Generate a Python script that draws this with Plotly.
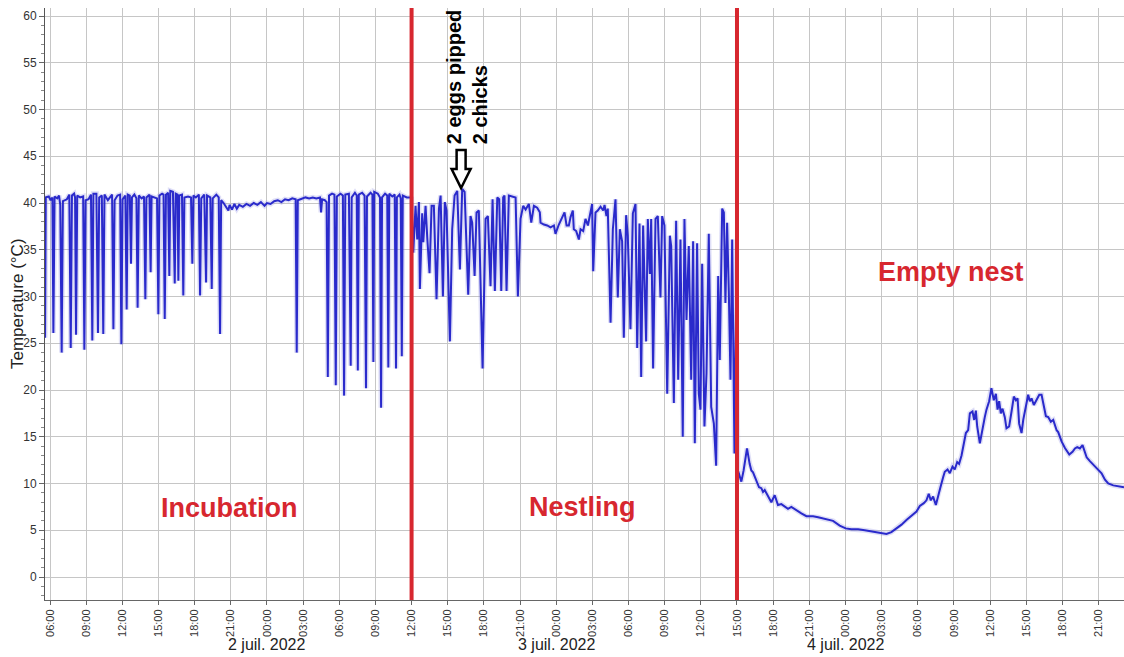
import pandas as pd
import plotly.graph_objects as go

# ---------------- data (hours since 2022-07-01 00:00, temperature °C) ----------------
incubation_h = [5.59, 5.65, 5.9, 6.05, 6.2, 6.28, 6.38, 6.6, 6.75, 6.85, 6.97, 7.07, 7.4, 7.6, 7.72, 7.82,
                8.0, 8.08, 8.16, 8.26, 8.5, 8.75, 8.85, 8.95, 9.2, 9.4, 9.51, 9.6, 9.85, 9.98, 10.08, 10.3,
                10.42, 10.52, 10.8, 11.0, 11.15, 11.26, 11.36, 11.6, 11.82, 11.92, 12.02, 12.25, 12.36, 12.45,
                12.62, 12.72, 12.8, 13.0, 13.17, 13.27, 13.37, 13.6, 13.8, 13.91, 14.0, 14.25, 14.35, 14.43,
                14.7, 14.88, 14.99, 15.08, 15.3, 15.42, 15.52, 15.62, 15.8, 15.9, 15.98, 16.2, 16.35, 16.43,
                16.58, 16.65, 16.73, 16.95, 17.06, 17.15, 17.45, 17.7, 17.81, 17.9, 18.1, 18.35, 18.45, 18.55,
                18.8, 18.95, 19.03, 19.3, 19.42, 19.5, 19.8, 20.0, 20.11, 20.2,
                20.4, 20.6, 20.8, 20.9, 21.1, 21.3, 21.5, 21.7, 22.0, 22.3, 22.6, 22.9, 23.2, 23.5, 23.8, 24.0,
                24.3, 24.6, 24.9, 25.2, 25.5, 25.8, 26.1, 26.38, 26.47, 26.56, 26.9, 27.2, 27.5, 27.8, 28.1,
                28.4, 28.49, 28.58, 28.8, 28.95, 29.05, 29.15, 29.4, 29.6, 29.71, 29.8, 30.1, 30.3, 30.4, 30.5,
                30.8, 30.95, 31.03, 31.3, 31.45, 31.54, 31.62, 31.9, 32.1, 32.22, 32.3, 32.6, 32.75, 32.83,
                32.9, 33.2, 33.38, 33.47, 33.55, 33.8, 33.98, 34.07, 34.15, 34.4, 34.6, 34.71, 34.78, 35.0,
                35.1, 35.19, 35.27, 35.6, 35.9, 36.0]
incubation_t = [25.6, 40.6, 40.7, 40.3, 40.6, 26.1, 40.7, 40.5, 40.8, 39.8, 24.0, 40.2, 40.4, 40.9, 24.5, 40.8,
                41.0, 40.6, 25.9, 40.8, 40.6, 40.7, 24.3, 40.3, 40.4, 40.9, 25.3, 41.0, 41.0, 26.1, 40.6, 40.8,
                26.0, 40.9, 40.3, 40.6, 40.9, 26.5, 40.3, 40.8, 40.9, 24.9, 40.4, 40.8, 28.6, 40.9,
                40.8, 33.5, 40.6, 40.9, 40.5, 28.8, 40.8, 40.5, 40.7, 29.7, 40.6, 40.9, 32.6, 40.7,
                40.6, 40.5, 28.1, 40.8, 41.0, 40.9, 27.6, 40.9, 41.1, 32.2, 41.3, 41.2, 31.4, 41.0,
                40.9, 31.7, 40.8, 40.9, 30.1, 40.6, 40.7, 40.6, 33.5, 40.8, 40.6, 40.9, 30.1, 40.5,
                40.9, 31.5, 40.8, 40.6, 30.8, 40.5, 40.9, 40.6, 26.0, 40.3,
                40.0, 39.6, 39.2, 39.8, 39.3, 39.9, 39.4, 39.8, 39.6, 39.9, 39.7, 40.0, 39.8, 40.1, 39.7, 40.0,
                39.9, 40.2, 40.3, 40.1, 40.4, 40.3, 40.5, 40.4, 24.0, 40.3, 40.5, 40.6, 40.5, 40.6, 40.5,
                40.6, 39.0, 40.4, 40.3, 40.1, 21.4, 40.8, 41.0, 40.9, 20.5, 40.7, 41.0, 40.8, 19.4, 40.9,
                41.0, 22.6, 40.6, 41.1, 40.8, 22.1, 40.9, 41.1, 40.8, 20.2, 40.7, 41.1, 40.9, 23.0,
                41.2, 41.0, 40.6, 18.1, 40.6, 41.0, 40.8, 22.4, 41.0, 40.7, 40.9, 22.3, 40.6, 40.9,
                40.5, 23.6, 40.8, 40.6, 40.6, 40.5]

nestling_h = [36.14, 36.33, 36.47, 36.61, 36.69, 36.88, 36.97, 37.16, 37.30, 37.49, 37.66, 37.85, 38.07, 38.27,
              38.41, 38.60, 38.76, 38.90, 39.18, 39.37, 39.57, 39.79, 40.01, 40.20, 40.40, 40.70, 40.89, 41.03,
              41.23, 41.39, 41.58, 41.89, 42.14, 42.33, 42.55, 42.72, 42.91, 43.11, 43.27, 43.44, 43.60, 43.71,
              43.88, 44.07, 44.63, 44.82, 45.04, 45.26, 45.46, 45.73, 45.93, 46.15, 46.42, 46.64, 46.70, 46.98,
              47.25, 47.53, 47.81, 47.94, 48.22, 48.50, 48.69, 48.86, 49.05, 49.19, 49.38, 49.46, 49.66, 49.88,
              50.02, 50.24, 50.43, 50.63, 50.85, 50.98, 51.07, 51.26, 51.45, 51.68, 51.90, 52.01, 52.17, 52.28,
              52.51, 52.70, 52.92, 53.11, 53.28, 53.47, 53.61, 53.80, 53.94, 54.16, 54.36, 54.58, 54.72, 54.91,
              55.05, 55.21, 55.46, 55.60, 55.77, 55.88, 56.04, 56.24, 56.43, 56.65, 56.79, 56.98, 57.21, 57.43,
              57.54, 57.76, 57.95, 58.12, 58.31, 58.50, 58.64, 58.81, 59.00, 59.20, 59.36, 59.50, 59.69, 59.83,
              59.97, 60.11, 60.30, 60.47, 60.66, 60.86, 61.08, 61.27, 61.44, 61.57, 61.77, 61.91, 62.04, 62.18,
              62.32, 62.46, 62.60, 62.79, 62.93, 63.0]
nestling_t = [34.7, 39.7, 36.1, 40.1, 30.8, 38.9, 35.8, 39.7, 36.3, 32.5, 39.7, 39.7, 29.7, 39.4,
              40.8, 30.0, 40.1, 39.2, 25.2, 37.2, 40.8, 41.3, 32.9, 41.5, 41.2, 30.2, 38.6, 37.9,
              32.2, 39.0, 39.2, 22.3, 38.3, 38.6, 31.1, 40.4, 30.6, 40.6, 40.4, 30.6, 40.6, 40.8,
              30.6, 40.8, 40.6, 30.0, 38.3, 39.7, 39.3, 39.9, 37.9, 39.7, 39.5, 39.0, 37.9, 37.7,
              37.6, 37.4, 37.6, 36.7, 37.7, 38.6, 39.0, 37.6, 37.6, 38.5, 39.2, 37.2, 37.0, 36.1,
              37.2, 37.0, 38.3, 37.6, 39.2, 39.9, 32.7, 39.0, 39.2, 39.6, 39.2, 39.8, 38.6, 39.4,
              27.2, 37.2, 40.4, 29.9, 37.2, 35.9, 25.6, 38.7, 36.5, 26.5, 38.9, 39.9, 24.5, 37.8,
              21.4, 37.6, 25.2, 38.3, 32.4, 38.3, 22.3, 38.3, 38.6, 29.9, 38.6, 37.6, 19.6, 36.5,
              35.4, 18.6, 38.1, 21.1, 36.1, 15.0, 38.3, 27.5, 35.4, 21.1, 35.9, 14.3, 35.7, 19.6,
              17.9, 33.5, 16.1, 21.8, 36.7, 18.2, 16.4, 11.9, 32.2, 23.2, 39.4, 39.0, 29.3, 37.9,
              30.6, 21.1, 36.1, 13.2, 30.4, 13.4]

empty_h = [63.08, 63.22, 63.36, 63.55, 63.83, 64.05, 64.19, 64.33, 64.47, 64.61, 64.83, 65.02, 65.16, 65.30,
           65.57, 65.85, 66.13, 66.40, 66.68, 66.96, 67.23, 67.51, 67.93, 68.34, 68.76, 69.31, 69.73, 70.14,
           70.56, 70.97, 71.52, 72.02, 72.49, 73.05, 73.60, 74.15, 74.71, 75.12, 75.40, 75.81, 76.23, 76.65,
           77.06, 77.48, 77.89, 78.17, 78.50, 78.72, 78.91, 79.08, 79.27, 79.50, 79.69, 79.88, 80.11, 80.24,
           80.47, 80.66, 80.88, 81.07, 81.27, 81.43, 81.63, 81.82, 81.99, 82.18, 82.32, 82.54, 82.68, 82.82,
           82.93, 83.15, 83.29, 83.56, 83.70, 83.92, 84.11, 84.31, 84.48, 84.62, 84.75, 84.89, 85.03, 85.22,
           85.36, 85.58, 85.78, 85.97, 86.14, 86.28, 86.41, 86.61, 86.75, 86.97, 87.16, 87.30, 87.44, 87.63,
           87.85, 88.08, 88.27, 88.46, 88.63, 88.82, 89.04, 89.24, 89.52, 89.65, 89.93, 90.21, 90.57, 90.84,
           91.04, 91.23, 91.45, 91.67, 91.87, 92.01, 92.28, 92.70, 92.97, 93.25, 93.53, 93.80, 94.22, 94.64,
           95.11]
empty_t = [11.4, 10.7, 10.2, 11.4, 13.75, 12.1, 11.4, 11.2, 10.7, 10.4, 9.6, 9.5, 9.1, 9.3,
           8.6, 8.0, 8.75, 7.7, 7.8, 7.5, 7.3, 7.5, 7.1, 6.8, 6.5, 6.5, 6.4, 6.25,
           6.1, 6.0, 5.5, 5.2, 5.1, 5.1, 5.0, 4.9, 4.8, 4.7, 4.6, 4.8, 5.2, 5.6,
           6.1, 6.6, 7.0, 7.6, 7.9, 8.2, 8.9, 8.2, 8.6, 7.7, 8.8, 9.6, 10.7, 11.25,
           11.5, 11.1, 11.8, 11.5, 12.3, 12.1, 13.0, 14.3, 15.4, 15.7, 17.5, 17.7, 16.8, 17.8,
           16.1, 14.3, 15.4, 17.1, 17.9, 18.8, 20.2, 18.9, 19.6, 17.9, 18.8, 17.5, 18.0, 17.1,
           15.9, 16.1, 17.7, 19.3, 18.9, 19.1, 16.4, 15.4, 16.8, 18.2, 19.5, 18.8, 19.1, 18.4,
           18.9, 19.5, 19.5, 18.3, 17.2, 17.1, 16.6, 16.8, 15.7, 15.5, 14.5, 13.8, 13.1, 13.4,
           13.75, 13.9, 13.75, 14.1, 13.4, 12.8, 12.4, 11.8, 11.5, 11.1, 10.4, 10.0, 9.8, 9.7,
           9.6]

phase_labels = ["Incubation", "Nestling", "Empty nest"]
phase_label_h = [20.86, 50.15, 80.77]
phase_label_t = [7.4, 7.5, 32.6]
phase_limits_h = [36.0, 63.0]          # 2 juil. 12:00 and 3 juil. 15:00
event_h = 40.11
event_t = 41.6
event_lines = ["2 eggs pipped", "2 chicks"]

tick_hours = list(range(6, 94, 3))
date_label_h = [24, 48, 72]
date_labels = ["2 juil. 2022", "3 juil. 2022", "4 juil. 2022"]
x_range_h = [5.585, 95.11]
y_range = [-2.46, 60.86]
y_title = "Temperature (°C)"

# ---------------- build ----------------
base = pd.Timestamp("2022-07-01 00:00")


def to_t(h):
    return base + pd.to_timedelta(h, unit="h")


hours = incubation_h + nestling_h + empty_h
temps = incubation_t + nestling_t + empty_t
times = [to_t(h) for h in hours]

RED = "#d7272f"
BLUE = "#2a2acb"
FONT = "Liberation Sans, Arial"

fig = go.Figure()
fig.add_trace(go.Scatter(x=times, y=temps, mode="lines",
                         line=dict(color="rgba(140,140,225,0.28)", width=5),
                         hoverinfo="skip", showlegend=False))
fig.add_trace(go.Scatter(x=times, y=temps, mode="lines",
                         line=dict(color=BLUE, width=2), showlegend=False))

for h in phase_limits_h:
    fig.add_shape(type="line", xref="x", yref="paper", x0=to_t(h), x1=to_t(h), y0=0, y1=1,
                  line=dict(color=RED, width=4))

for txt, h, t in zip(phase_labels, phase_label_h, phase_label_t):
    fig.add_annotation(x=to_t(h), y=t, text="<b>" + txt + "</b>", showarrow=False,
                       font=dict(family=FONT, size=27, color=RED))

# event text and hollow arrow
fig.add_annotation(x=to_t(event_h), y=event_t,
                   text="<br>".join("<b>" + s + "</b>" for s in event_lines),
                   showarrow=False, textangle=-90, align="left", xanchor="center", yanchor="bottom",
                   yshift=42, xshift=6,
                   font=dict(family=FONT, size=20, color="black"))
fig.add_shape(type="path", xref="x", yref="y", xsizemode="pixel", ysizemode="pixel",
              xanchor=to_t(event_h), yanchor=event_t,
              path="M 0,0 L -9.5,19 L -4.5,19 L -4.5,38 L 4.5,38 L 4.5,19 L 9.5,19 Z",
              line=dict(color="black", width=2.5), fillcolor="white")

for h, lab in zip(date_label_h, date_labels):
    fig.add_annotation(x=to_t(h), y=0, yref="paper", yanchor="top", yshift=-34, text=lab,
                       showarrow=False, font=dict(family=FONT, size=16, color="#222"))

# y-axis title
fig.add_annotation(x=0, y=0.5, xref="paper", yref="paper", xanchor="center", yanchor="middle",
                   xshift=-28, text=y_title, textangle=-90, showarrow=False,
                   font=dict(family=FONT, size=17, color="#222"))

fig.update_layout(
    width=1124, height=657,
    margin=dict(l=45, r=0, t=8, b=57, autoexpand=False),
    paper_bgcolor="white", plot_bgcolor="white",
    font=dict(family=FONT, color="#333"),
    xaxis=dict(type="date", range=[to_t(x_range_h[0]), to_t(x_range_h[1])], automargin=False,
               tickmode="array", tickvals=[to_t(h) for h in tick_hours],
               ticktext=["%02d:00" % (h % 24) for h in tick_hours],
               tickangle=-90, tickfont=dict(size=11, color="#333"),
               ticks="outside", ticklen=4, tickcolor="#666",
               showgrid=True, gridcolor="#c6c6c6", gridwidth=1,
               showline=True, linecolor="#666", linewidth=1, zeroline=False),
    yaxis=dict(range=y_range, tick0=0, dtick=5, tickfont=dict(size=12, color="#333"), automargin=False,
               ticks="outside", ticklen=5, tickcolor="#666",
               minor=dict(dtick=1, ticks="outside", ticklen=3, tickcolor="#888", showgrid=False),
               showgrid=True, gridcolor="#c6c6c6", gridwidth=1,
               showline=True, linecolor="#555", linewidth=1, zeroline=False),
)

fig.write_html("out.html", config={"displayModeBar": False},
               post_script="document.body.style.margin='0';document.body.style.overflow='hidden';")
